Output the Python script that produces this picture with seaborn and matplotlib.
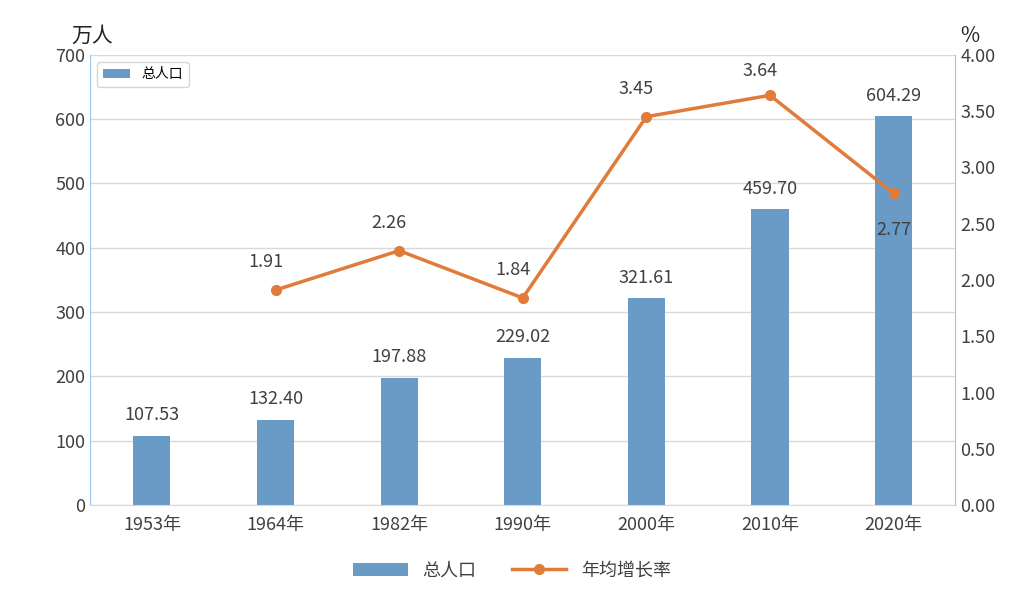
import matplotlib
matplotlib.use("Agg")
import matplotlib.pyplot as plt
import seaborn as sns
import pandas as pd

years = ["1953年", "1964年", "1982年", "1990年", "2000年", "2010年", "2020年"]
population = [107.53, 132.40, 197.88, 229.02, 321.61, 459.70, 604.29]
growth = [None, 1.91, 2.26, 1.84, 3.45, 3.64, 2.77]

plt.rcParams["font.family"] = ["Noto Sans CJK SC", "DejaVu Sans"]
bar_c = "#5B9BD5"
line_c = "#E07B39"
txt = "#404040"

fig = plt.figure(figsize=(10.24, 6.02), dpi=100)
ax = fig.add_axes([0.088, 0.161, 0.845, 0.748])
df = pd.DataFrame({"year": years, "pop": population, "rate": growth})
sns.barplot(data=df, x="year", y="pop", color=bar_c, width=0.3, ax=ax,
            label="总人口", zorder=2)
ax.set_ylim(0, 700)
ax.set_yticks(range(0, 701, 100))
ax.set_xlim(-0.5, 6.5)
ax.grid(axis="y", color="#d9d9d9", lw=1, zorder=0)
ax.set_axisbelow(True)
for i, v in enumerate(population):
    ax.text(i, v + 18, f"{v:.2f}", ha="center", va="bottom", fontsize=13, color=txt)

ax2 = ax.twinx()
d2 = df.dropna()
idx = [years.index(y) for y in d2["year"]]
ax2.plot(idx, d2["rate"].tolist(), color=line_c, lw=2.5, marker="o", ms=7, label="年均增长率")
ax2.set_ylim(0, 4)
ax2.set_yticks([i * 0.5 for i in range(9)])
ax2.set_yticklabels([f"{i*0.5:.2f}" for i in range(9)])
offsets = {1: 0.25, 2: 0.25, 3: 0.25, 4: 0.25, 5: 0.22, 6: -0.33}
for i, r in zip(idx, d2["rate"].tolist()):
    ax2.text(i - (0.08 if i != 6 else 0), r + offsets[i], f"{r:.2f}", ha="center",
             va="center", fontsize=13, color=txt)

for a in (ax, ax2):
    for s in a.spines.values():
        s.set_visible(False)
    a.tick_params(length=0, labelsize=13, labelcolor=txt)
    a.set_xlabel("")
    a.set_ylabel("")
ax.spines["left"].set_visible(True)
ax.spines["left"].set_color("#9dc3e6")
ax2.spines["right"].set_visible(True)
ax2.spines["right"].set_color("#9dc3e6")
ax.spines["bottom"].set_visible(True)
ax.spines["bottom"].set_color("#d9d9d9")
ax.tick_params(axis="x", pad=8)

fig.text(0.07, 0.93, "万人", fontsize=15, color="#222222")
fig.text(0.938, 0.93, "%", fontsize=15, color="#222222")

h1, l1 = ax.get_legend_handles_labels()
h2, l2 = ax2.get_legend_handles_labels()
fig.legend(h1 + h2, l1 + l2, loc="lower center", bbox_to_anchor=(0.5, 0.01), ncol=2,
           frameon=False, fontsize=13, labelcolor=txt, handlelength=3)

fig.savefig("out.png", dpi=100)
